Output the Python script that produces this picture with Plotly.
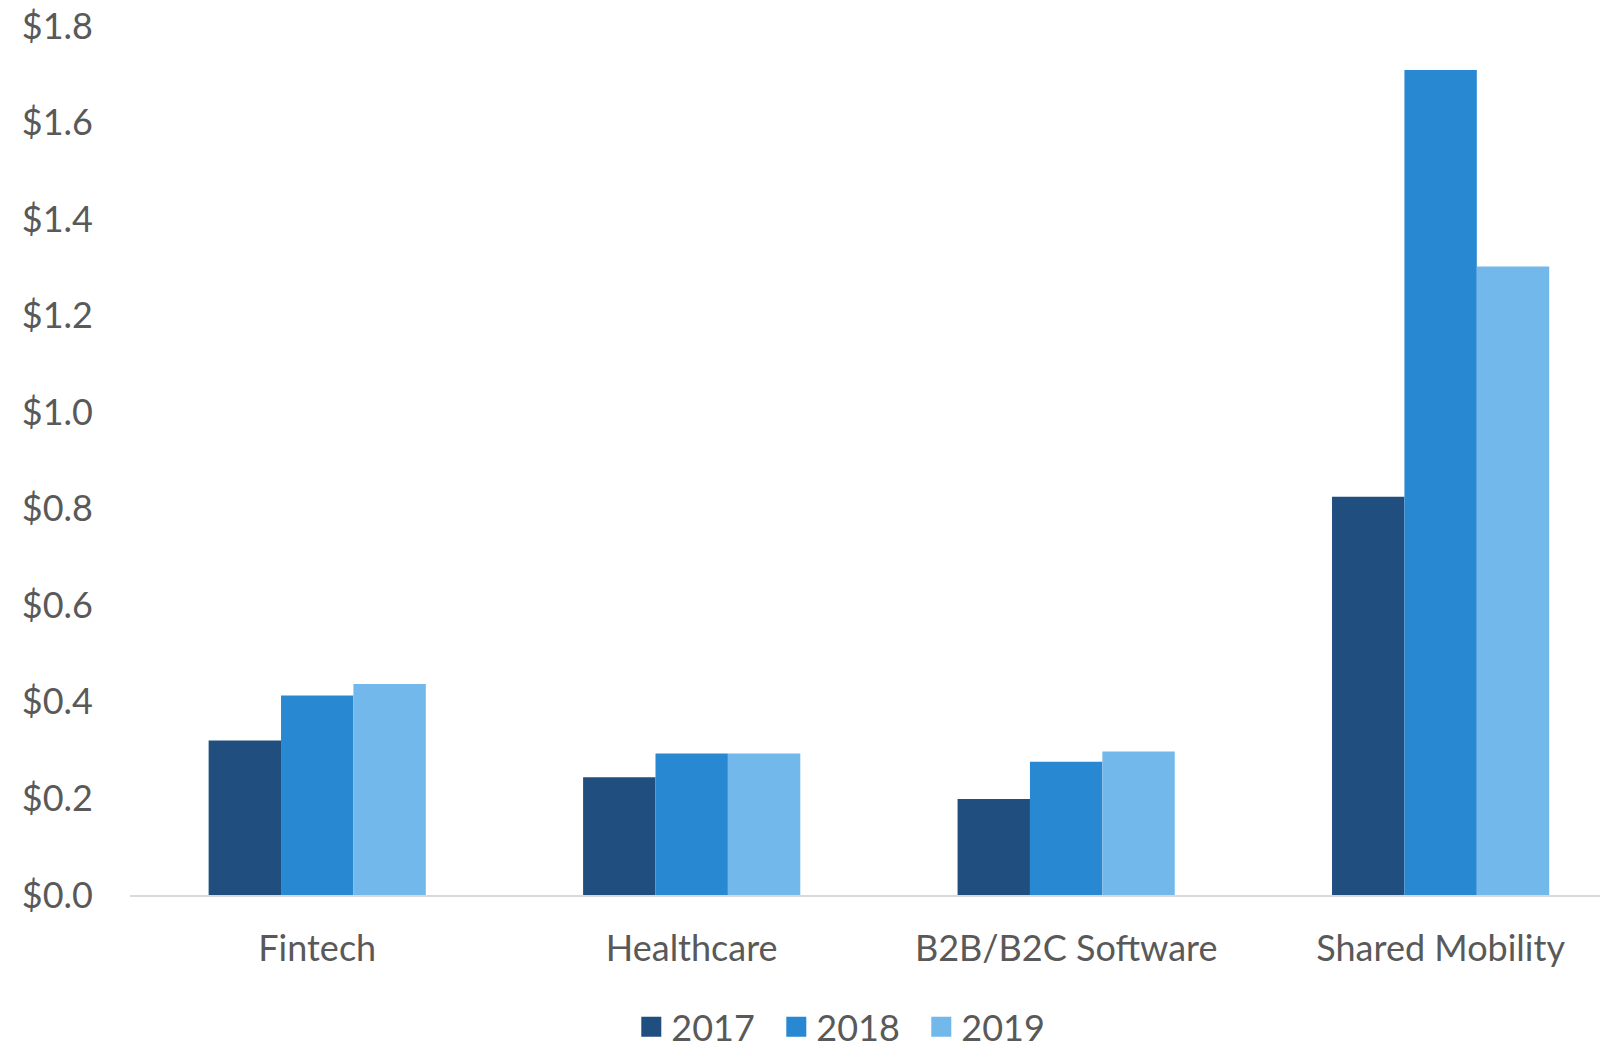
import plotly.graph_objects as go

categories = ["Fintech", "Healthcare", "B2B/B2C Software", "Shared Mobility"]
years = ["2017", "2018", "2019"]
v2017 = [0.32, 0.244, 0.199, 0.825]
v2018 = [0.413, 0.293, 0.276, 1.709]
v2019 = [0.437, 0.293, 0.297, 1.302]
colors = ["#1F4E7F", "#2988D2", "#73B8EA"]

FONT = "Lato"
GRAY = "#595959"
FS = 36

fig = go.Figure()
for name, vals, col in zip(years, [v2017, v2018, v2019], colors):
    fig.add_trace(go.Bar(x=categories, y=vals, name=name, showlegend=False,
                         marker=dict(color=col, line=dict(width=0))))
for name, col in zip(years, colors):
    fig.add_trace(go.Scatter(x=[None], y=[None], name=name, mode="markers",
                             marker=dict(symbol="square", size=16, color=col,
                                         line=dict(color=col, width=4))))

fig.update_layout(
    width=1600, height=1045,
    margin=dict(l=122, r=0, t=18, b=158),
    paper_bgcolor="white", plot_bgcolor="white",
    barmode="group", bargap=0.42, bargroupgap=0,
    font=dict(family=FONT, size=FS, color=GRAY),
    legend=dict(orientation="h", xref="container", yref="container",
                x=0.5255, xanchor="center", y=0.025, yanchor="middle",
                font=dict(family=FONT, size=FS, color=GRAY), itemwidth=30,
                entrywidth=100, entrywidthmode="pixels", traceorder="normal"),
    showlegend=True,
)
fig.update_xaxes(
    range=[-0.5, 3.447], showgrid=False, showline=True, linecolor="#D9D9D9", linewidth=2,
    ticks="", tickfont=dict(family=FONT, size=FS, color=GRAY), ticklabelstandoff=21,
    automargin=False,
)
fig.update_yaxes(
    range=[0, 1.8], dtick=0.2, tickprefix="$", tickformat=".1f", showgrid=False,
    zeroline=False, showline=False, ticks="", tickfont=dict(family=FONT, size=FS, color=GRAY),
    ticklabelstandoff=36, automargin=False, ticklabeloverflow="allow",
)

fig.write_html("out.html")
